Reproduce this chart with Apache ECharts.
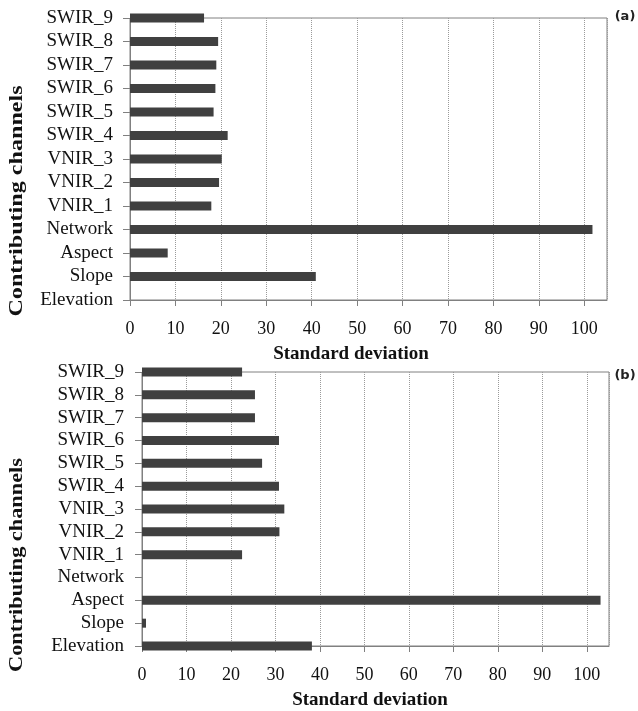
<!DOCTYPE html>
<html>
<head>
<meta charset="utf-8">
<script src="https://cdn.jsdelivr.net/npm/echarts@6/dist/echarts.min.js"></script>
<style>
html,body{margin:0;padding:0;background:#fff;}
#chart{width:638px;height:711px;}
</style>
</head>
<body>
<div id="chart"></div>
<script>
// Data (bottom to top order on the category axis)
const categories = ['Elevation','Slope','Aspect','Network','VNIR_1','VNIR_2','VNIR_3','SWIR_4','SWIR_5','SWIR_6','SWIR_7','SWIR_8','SWIR_9'];
const valuesA = [0, 40.9, 8.3, 101.8, 17.9, 19.6, 20.2, 21.5, 18.4, 18.8, 19.0, 19.4, 16.3];
const valuesB = [38.2, 0.9, 103.1, 0, 22.5, 30.9, 32.0, 30.8, 27.0, 30.8, 25.4, 25.4, 22.5];
const xTicks = [0,10,20,30,40,50,60,70,80,90,100];
const panelLabels = ['(a)','(b)'];
const xTitle = 'Standard deviation';
const yTitle = 'Contributing channels';

const serif = 'Liberation Serif';
const gray = '#808080';
const barColor = '#404040';

function xAxisCfg(gi){
  return {
    type:'value', gridIndex:gi, min:0, max:105, interval:10,
    axisLine:{show:true, lineStyle:{color:gray, width:1}},
    axisTick:{show:true, inside:false, length:6, lineStyle:{color:gray}},
    axisLabel:{show:true, margin:20, fontFamily:serif, fontSize:18, color:'#111', showMaxLabel:false,
      formatter:function(v){ return xTicks.indexOf(v) >= 0 ? String(v) : ''; }},
    splitLine:{show:true, lineStyle:{color:'#9a9a9a', type:'dotted', width:1}}
  };
}
function yAxisCfg(gi, margin){
  return {
    type:'category', gridIndex:gi, data:categories, boundaryGap:false,
    axisLine:{show:true, lineStyle:{color:gray, width:1}},
    axisTick:{show:true, inside:false, length:7, alignWithLabel:true, lineStyle:{color:gray}},
    axisLabel:{show:true, margin:margin, fontFamily:serif, fontSize:19, color:'#111', interval:0},
    splitLine:{show:false}
  };
}

const chart = echarts.init(document.getElementById('chart'), null, {renderer:'canvas'});
chart.setOption({
  backgroundColor:'#fff',
  animation:false,
  grid:[
    {left:130, top:18, width:477, height:282, show:true, borderColor:gray, borderWidth:1, backgroundColor:'transparent'},
    {left:142, top:372, width:467, height:274, show:true, borderColor:gray, borderWidth:1, backgroundColor:'transparent'}
  ],
  xAxis:[xAxisCfg(0), xAxisCfg(1)],
  yAxis:[yAxisCfg(0,17), yAxisCfg(1,18)],
  series:[
    {type:'bar', xAxisIndex:0, yAxisIndex:0, data:valuesA, barWidth:9, clip:true, itemStyle:{color:barColor}},
    {type:'bar', xAxisIndex:1, yAxisIndex:1, data:valuesB, barWidth:9, clip:true, itemStyle:{color:barColor}}
  ],
  graphic:[
    {type:'text', x:351, y:354, style:{text:xTitle, fontFamily:serif, fontWeight:'bold', fontSize:19, fill:'#111', align:'center', verticalAlign:'middle'}},
    {type:'text', x:370, y:700, style:{text:xTitle, fontFamily:serif, fontWeight:'bold', fontSize:19, fill:'#111', align:'center', verticalAlign:'middle'}},
    {type:'text', x:17.5, y:201, rotation:Math.PI/2, scaleX:1.34, style:{text:yTitle, fontFamily:serif, fontWeight:'bold', fontSize:18, fill:'#111', align:'center', verticalAlign:'middle'}},
    {type:'text', x:17.5, y:565, rotation:Math.PI/2, scaleX:1.24, style:{text:yTitle, fontFamily:serif, fontWeight:'bold', fontSize:18, fill:'#111', align:'center', verticalAlign:'middle'}},
    {type:'text', x:625, y:17, style:{text:panelLabels[0], fontFamily:'DejaVu Sans', fontWeight:'bold', fontSize:13, fill:'#222', align:'center', verticalAlign:'middle'}},
    {type:'text', x:625, y:376, style:{text:panelLabels[1], fontFamily:'DejaVu Sans', fontWeight:'bold', fontSize:13, fill:'#222', align:'center', verticalAlign:'middle'}}
  ]
});
</script>
</body>
</html>
